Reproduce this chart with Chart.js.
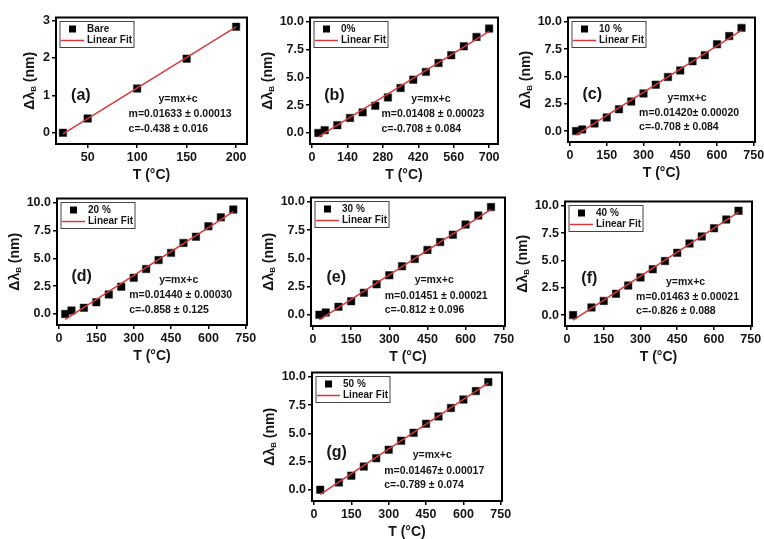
<!DOCTYPE html>
<html>
<head>
<meta charset="utf-8">
<script src="https://cdn.jsdelivr.net/npm/chart.js@4.4.1/dist/chart.umd.min.js"></script>
<style>
  body { margin: 0; background: #fff; width: 764px; height: 539px; overflow: hidden; position: relative; }
  canvas { position: absolute; }
</style>
</head>
<body>
<canvas id="pa"></canvas>
<canvas id="pb"></canvas>
<canvas id="pc"></canvas>
<canvas id="pd"></canvas>
<canvas id="pe"></canvas>
<canvas id="pf"></canvas>
<canvas id="pg"></canvas>
<script>
// temperatures (°C)
const tempBare = [25, 50, 100, 150, 200];
const tempFull = [25, 50, 100, 150, 200, 250, 300, 350, 400, 450, 500, 550, 600, 650, 700];
const tempNo50 = [25, 100, 150, 200, 250, 300, 350, 400, 450, 500, 550, 600, 650, 700];

// Bragg wavelength shift (nm)
const shiftBare = [0, 0.38, 1.18, 1.98, 2.83];
const shift0 = [0, 0.25, 0.7, 1.35, 1.85, 2.45, 3.2, 4.05, 4.8, 5.5, 6.3, 7.0, 7.8, 8.65, 9.4];
const shift10 = [0, 0.15, 0.7, 1.25, 2.0, 2.7, 3.45, 4.25, 4.95, 5.55, 6.4, 6.95, 7.95, 8.7, 9.45];
const shift20 = [0, 0.3, 0.55, 1.05, 1.75, 2.45, 3.25, 4.05, 4.85, 5.5, 6.4, 6.95, 7.9, 8.7, 9.4];
const shift30 = [0, 0.2, 0.7, 1.2, 1.95, 2.7, 3.5, 4.3, 4.95, 5.75, 6.45, 7.1, 8.0, 8.8, 9.55];
const shift40 = [0, 0.7, 1.3, 1.95, 2.7, 3.45, 4.2, 4.95, 5.7, 6.55, 7.2, 7.95, 8.75, 9.55];
const shift50 = [0, 0.65, 1.25, 2.05, 2.8, 3.55, 4.35, 5.05, 5.85, 6.5, 7.25, 8.0, 8.75, 9.55];

// linear fit end points
const fitXBare = [25, 200];
const fitX = [25, 700];
const fitBare = [-0.03, 2.83];
const fit0 = [-0.36, 9.15];
const fit10 = [-0.35, 9.23];
const fit20 = [-0.50, 9.22];
const fit30 = [-0.45, 9.35];
const fit40 = [-0.46, 9.42];
const fit50 = [-0.42, 9.48];

const seriesNames = ['Bare', '0%', '10 %', '20 %', '30 %', '40 %', '50 %'];
const panelTags = ['(a)', '(b)', '(c)', '(d)', '(e)', '(f)', '(g)'];
const fitSlopes = ['m=0.01633 ± 0.00013', 'm=0.01408 ± 0.00023', 'm=0.01420± 0.00020',
  'm=0.01440 ± 0.00030', 'm=0.01451 ± 0.00021', 'm=0.01463 ± 0.00021', 'm=0.01467± 0.00017'];
const fitIntercepts = ['c=-0.438 ± 0.016', 'c=-0.708 ± 0.084', 'c=-0.708 ± 0.084',
  'c=-0.858 ± 0.125', 'c=-0.812 ± 0.096', 'c=-0.826 ± 0.088', 'c=-0.789 ± 0.074'];

const xTicksBare = [50, 100, 150, 200];
const xTicks0 = [0, 140, 280, 420, 560, 700];
const xTicks = [0, 150, 300, 450, 600, 750];
const yTicksBare = [0, 1, 2, 3];
const yTicks = [0, 2.5, 5, 7.5, 10];

const FONT = "'Liberation Sans', Arial, sans-serif";
const INK = '#161616';
const RED = '#d8383a';

// draws frame, inset legend, panel letter, fit text and y title
const decor = {
  id: 'decor',
  afterDraw(chart, args, o) {
    const { ctx, chartArea: a } = chart;
    const w = a.right - a.left, h = a.bottom - a.top;
    ctx.save();
    ctx.strokeStyle = '#000';
    ctx.lineWidth = 2;
    ctx.strokeRect(a.left, a.top, w, h);

    // legend
    ctx.font = 'bold 10px ' + FONT;
    const lx = a.left + 4, ly = a.top + 4;
    const lw = 27 + Math.max(ctx.measureText(o.name).width, ctx.measureText('Linear Fit').width) + 2;
    ctx.fillStyle = '#fff';
    ctx.fillRect(lx, ly, lw, 26);
    ctx.strokeStyle = '#444';
    ctx.lineWidth = 1;
    ctx.strokeRect(lx, ly, lw, 26);
    ctx.fillStyle = '#000';
    ctx.fillRect(lx + 9, ly + 4, 7, 7);
    ctx.strokeStyle = RED;
    ctx.lineWidth = 1.5;
    ctx.beginPath();
    ctx.moveTo(lx + 1, ly + 19);
    ctx.lineTo(lx + 24, ly + 19);
    ctx.stroke();
    ctx.fillStyle = INK;
    ctx.textBaseline = 'middle';
    ctx.fillText(o.name, lx + 27, ly + 7.5);
    ctx.fillText('Linear Fit', lx + 27, ly + 19);

    // panel letter
    ctx.font = 'bold 16px ' + FONT;
    ctx.textAlign = 'center';
    ctx.fillText(o.tag, a.left + w * 0.13, a.top + h * 0.62);

    // fit text
    ctx.font = 'bold 10.5px ' + FONT;
    ctx.textAlign = 'left';
    const fx = a.left + w * 0.38;
    const mw = ctx.measureText(o.m).width;
    ctx.textAlign = 'center';
    ctx.fillText('y=mx+c', fx + mw / 2 - 2, a.top + h * 0.645);
    ctx.textAlign = 'left';
    ctx.fillText(o.m, fx, a.top + h * 0.765);
    ctx.fillText(o.c, fx, a.top + h * 0.88);

    // y title with subscript
    ctx.translate(a.left - o.titleGap, (a.top + a.bottom) / 2);
    ctx.rotate(-Math.PI / 2);
    ctx.font = 'bold 14px ' + FONT;
    const w1 = ctx.measureText('Δλ').width, w3 = ctx.measureText(' (nm)').width;
    ctx.font = 'bold 8px ' + FONT;
    const w2 = ctx.measureText('B').width;
    let x0 = -(w1 + w2 + w3) / 2;
    ctx.font = 'bold 14px ' + FONT;
    ctx.fillText('Δλ', x0, 0);
    ctx.font = 'bold 8px ' + FONT;
    ctx.fillText('B', x0 + w1, 4);
    ctx.font = 'bold 14px ' + FONT;
    ctx.fillText(' (nm)', x0 + w1 + w2, 0);
    ctx.restore();
  }
};

function makePanel(id, box, idx, xs, ys, fxs, fys, xRange, yRange, xt, yt, yDigits, titleGap) {
  const [L, T, R, B] = box;
  const cv = document.getElementById(id);
  cv.style.left = (L - 52) + 'px';
  cv.style.top = (T - 6) + 'px';
  cv.width = R - L + 66;
  cv.height = B - T + 46;
  const tickFont = { family: FONT, size: 12.5, weight: 'bold' };
  new Chart(cv.getContext('2d'), {
    type: 'scatter',
    data: {
      datasets: [{
        label: 'Linear Fit',
        data: fxs.map((x, i) => ({ x: x, y: fys[i] })),
        showLine: true,
        borderColor: RED,
        borderWidth: 1.5,
        pointRadius: 0,
        order: 0
      }, {
        label: seriesNames[idx],
        data: xs.map((x, i) => ({ x: x, y: ys[i] })),
        pointStyle: 'rect',
        pointRadius: 5.3,
        backgroundColor: '#000',
        borderColor: '#222',
        borderWidth: 0.5,
        order: 1
      }]
    },
    options: {
      responsive: false,
      animation: false,
      layout: { padding: { top: 6, right: 14, left: 0, bottom: 0 } },
      plugins: {
        legend: { display: false },
        tooltip: { enabled: false },
        decor: { name: seriesNames[idx], tag: panelTags[idx], m: fitSlopes[idx], c: fitIntercepts[idx], titleGap: titleGap }
      },
      scales: {
        x: {
          type: 'linear',
          min: xRange[0],
          max: xRange[1],
          afterFit(s) { s.height = 40; },
          afterBuildTicks(s) { s.ticks = xt.map(v => ({ value: v })); },
          ticks: { font: tickFont, color: INK, padding: 2, maxRotation: 0, callback: v => String(v) },
          grid: { drawOnChartArea: false, tickLength: 4, color: '#000', lineWidth: 1.5 },
          border: { color: '#000', width: 2 },
          title: { display: true, text: 'T (°C)', color: INK, font: { family: FONT, size: 14, weight: 'bold' }, padding: { top: 0, bottom: 0 } }
        },
        y: {
          min: yRange[0],
          max: yRange[1],
          afterFit(s) { s.width = 52; },
          afterBuildTicks(s) { s.ticks = yt.map(v => ({ value: v })); },
          ticks: { font: tickFont, color: INK, padding: 2, callback: v => v.toFixed(yDigits) },
          grid: { drawOnChartArea: false, tickLength: 4, color: '#000', lineWidth: 1.5 },
          border: { color: '#000', width: 2 }
        }
      }
    },
    plugins: [decor]
  });
}

const wide = [-8, 755], tall = [-1.0, 10.4];
makePanel('pa', [56, 14, 247, 144], 0, tempBare, shiftBare, fitXBare, fitBare, [18, 211], [-0.3, 3.08], xTicksBare, yTicksBare, 0, 26);
makePanel('pb', [310, 14, 498, 144], 1, tempFull, shift0, fitX, fit0, [-8, 735], tall, xTicks0, yTicks, 1, 42);
makePanel('pc', [568, 14, 755, 142], 2, tempFull, shift10, fitX, fit10, wide, tall, xTicks, yTicks, 1, 42);
makePanel('pd', [57, 195, 247, 325], 3, tempFull, shift20, fitX, fit20, wide, tall, xTicks, yTicks, 1, 42);
makePanel('pe', [311, 194, 505, 326], 4, tempFull, shift30, fitX, fit30, wide, tall, xTicks, yTicks, 1, 42);
makePanel('pf', [565, 198, 752, 326], 5, tempNo50, shift40, fitX, fit40, wide, tall, xTicks, yTicks, 1, 42);
makePanel('pg', [312, 369, 502, 501], 6, tempNo50, shift50, fitX, fit50, wide, tall, xTicks, yTicks, 1, 42);
</script>
</body>
</html>
